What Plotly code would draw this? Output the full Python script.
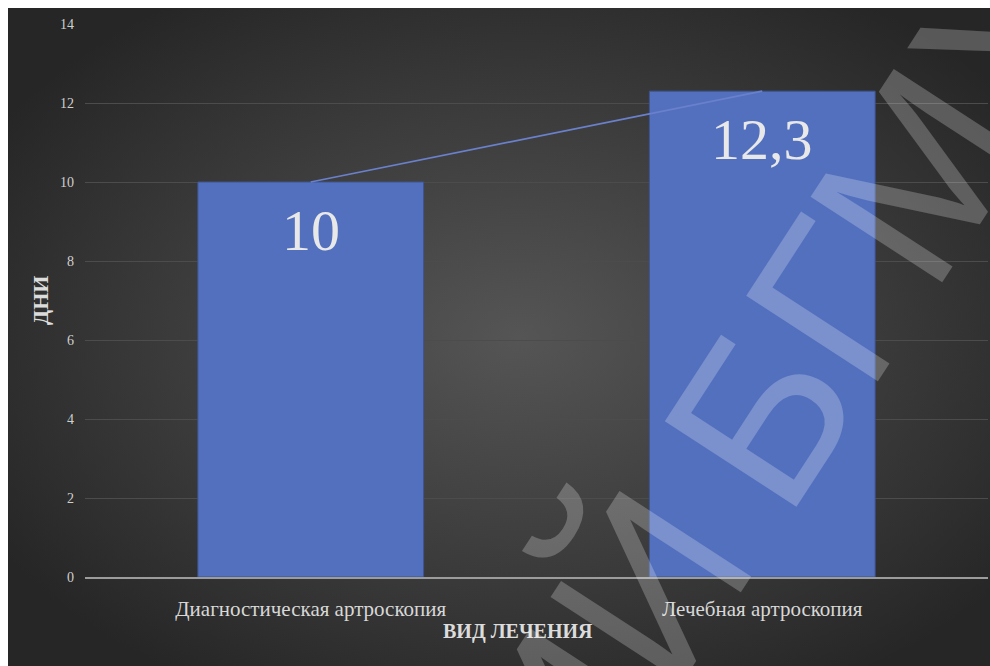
import base64
import plotly.graph_objects as go

# Treatment types and mean length of stay (days)
categories = ["Диагностическая артроскопия", "Лечебная артроскопия"]
days = [10, 12.3]
value_labels = ["10", "12,3"]
y_ticks = [0, 2, 4, 6, 8, 10, 12, 14]

SERIF = "Liberation Serif, DejaVu Serif, serif"

# Dark radial-gradient backdrop for the chart area
bg_svg = (
    '<svg xmlns="http://www.w3.org/2000/svg" width="982" height="658" '
    'preserveAspectRatio="none" viewBox="0 0 982 658">'
    '<defs><radialGradient id="g" cx="0.52" cy="0.5" r="0.62">'
    '<stop offset="0" stop-color="#555555"/>'
    '<stop offset="0.55" stop-color="#3c3c3c"/>'
    '<stop offset="1" stop-color="#262626"/>'
    '</radialGradient></defs>'
    '<rect width="982" height="658" fill="url(#g)"/></svg>'
)
bg_uri = "data:image/svg+xml;base64," + base64.b64encode(bg_svg.encode()).decode()

W, H = 990, 666
ML, MR, MT, MB = 85, 2, 24, 89
pw, ph = W - ML - MR, H - MT - MB

def px_to_paper_x(px):
    return (px - ML) / pw

def px_to_paper_y(py):
    return (H - MB - py) / ph

fig = go.Figure()

fig.add_trace(go.Bar(
    x=categories,
    y=days,
    marker=dict(color="#5270be", line=dict(color="#3f548f", width=1)),
    width=0.5,
    hoverinfo="skip",
))

# Line joining the tops of the bars
fig.add_trace(go.Scatter(
    x=categories,
    y=days,
    mode="lines",
    line=dict(color="#6a80cc", width=1.6),
    hoverinfo="skip",
))

# Value labels just below the top of each bar
value_annotations = [
    dict(
        x=c, y=v, xref="x", yref="y",
        text=t,
        xanchor="center", yanchor="top",
        yshift=-14,
        showarrow=False,
        font=dict(family=SERIF, size=58, color="#e8e8e8"),
    )
    for c, v, t in zip(categories, days, value_labels)
]

fig.update_layout(
    width=W,
    height=H,
    margin=dict(l=ML, r=MR, t=MT, b=MB),
    paper_bgcolor="white",
    plot_bgcolor="rgba(0,0,0,0)",
    showlegend=False,
    bargap=0.5,
    images=[dict(
        source=bg_uri,
        xref="paper", yref="paper",
        x=px_to_paper_x(8), y=px_to_paper_y(8),
        sizex=(W - 8) / pw, sizey=(H - 8) / ph,
        xanchor="left", yanchor="top",
        sizing="stretch",
        layer="below",
    )],
    xaxis=dict(
        showgrid=False,
        showline=True,
        linecolor="#9c9c9c",
        linewidth=1.5,
        ticks="",
        tickfont=dict(family=SERIF, size=21, color="#d8d8d8"),
        ticklabelstandoff=12,
    ),
    yaxis=dict(
        range=[0, 14],
        tickvals=y_ticks,
        showgrid=True,
        gridcolor="#4c4c4c",
        gridwidth=1,
        zeroline=False,
        showline=False,
        ticks="",
        ticklabelstandoff=10,
        tickfont=dict(family=SERIF, size=14, color="#cfcfcf"),
    ),
    annotations=value_annotations + [
        dict(
            text="<b>ВИД ЛЕЧЕНИЯ</b>",
            xref="paper", yref="paper",
            x=px_to_paper_x(518), y=px_to_paper_y(631),
            xanchor="center", yanchor="middle",
            showarrow=False,
            font=dict(family=SERIF, size=20, color="#dcdcdc"),
        ),
        dict(
            text="<b>ДНИ</b>",
            xref="paper", yref="paper",
            x=px_to_paper_x(40), y=px_to_paper_y(301),
            xanchor="center", yanchor="middle",
            textangle=-90,
            showarrow=False,
            font=dict(family=SERIF, size=22, color="#dcdcdc"),
        ),
        # Repository watermark across the chart (narrow word gap)
        dict(
            text="РЕПОЗИТОРИЙ\u2009БГМУ",
            xref="paper", yref="paper",
            x=px_to_paper_x(399), y=px_to_paper_y(972),
            xanchor="center", yanchor="middle",
            textangle=-57,
            showarrow=False,
            font=dict(family="Liberation Sans, Arial, sans-serif", size=228,
                      color="rgba(255,255,255,0.23)"),
        ),
    ],
)

fig.write_html("out.html")
